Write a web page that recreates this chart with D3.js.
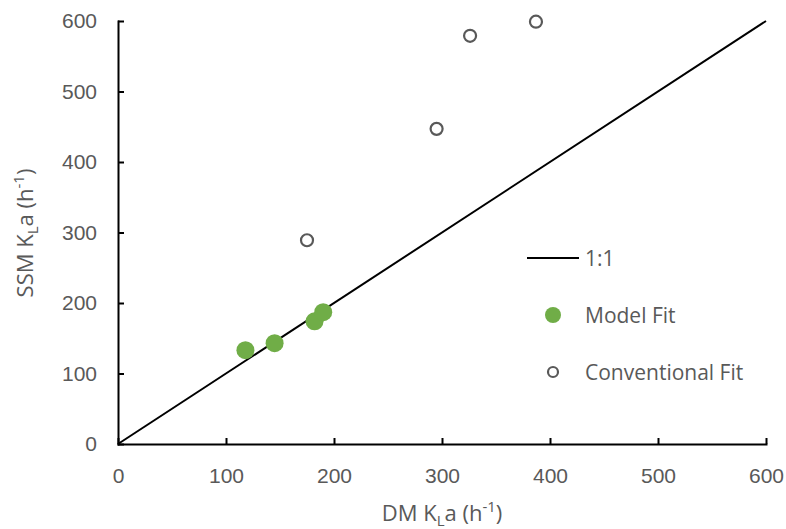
<!DOCTYPE html>
<html>
<head>
<meta charset="utf-8">
<script src="https://cdn.jsdelivr.net/npm/d3@7"></script>
<style>
  body { margin: 0; background: #fff; }
  svg { font-family: "Open Sans", sans-serif; }
  .axis path, .axis line { stroke: #000; stroke-width: 2; }
  .axis text { fill: #595959; font-size: 21px; }
</style>
</head>
<body>
<div id="chart"></div>
<script>
// values
const modelFit = [
  { dm: 118, ssm: 133 },
  { dm: 145, ssm: 143 },
  { dm: 182, ssm: 174 },
  { dm: 190, ssm: 187 }
];
const conventionalFit = [
  { dm: 175, ssm: 289 },
  { dm: 295, ssm: 447 },
  { dm: 326, ssm: 579 },
  { dm: 387, ssm: 599 }
];
const oneToOne = [[0, 0], [600, 600]];
const ticks = [0, 100, 200, 300, 400, 500, 600];

const width = 786, height = 529;
const margin = { top: 21, right: 20, bottom: 85, left: 118 };

const svg = d3.select('#chart').append('svg')
  .attr('width', width).attr('height', height);

const x = d3.scaleLinear().domain([0, 600]).range([margin.left, 766]);
const y = d3.scaleLinear().domain([0, 600]).range([444, margin.top]);

svg.append('g').attr('class', 'axis')
  .attr('transform', `translate(0,${y(0)})`)
  .call(d3.axisBottom(x).tickValues(ticks).tickSizeInner(-6).tickSizeOuter(0).tickPadding(24));

svg.append('g').attr('class', 'axis')
  .attr('transform', `translate(${x(0)},0)`)
  .call(d3.axisLeft(y).tickValues(ticks).tickSizeInner(-6).tickSizeOuter(0).tickPadding(21));

svg.selectAll('.axis .domain').attr('stroke-linecap', 'square');

// 1:1 line
svg.append('path')
  .datum(oneToOne)
  .attr('fill', 'none')
  .attr('stroke', '#000')
  .attr('stroke-width', 2)
  .attr('d', d3.line().x(d => x(d[0])).y(d => y(d[1])));

svg.append('g').selectAll('circle')
  .data(conventionalFit)
  .join('circle')
  .attr('cx', d => x(d.dm))
  .attr('cy', d => y(d.ssm))
  .attr('r', 6)
  .attr('fill', '#fff')
  .attr('stroke', '#595959')
  .attr('stroke-width', 2.2);

svg.append('g').selectAll('circle')
  .data(modelFit)
  .join('circle')
  .attr('cx', d => x(d.dm))
  .attr('cy', d => y(d.ssm))
  .attr('r', 9)
  .attr('fill', '#70ad47');

// axis titles
function title(sel, main) {
  sel.append('tspan').text(main + ' K');
  sel.append('tspan').attr('font-size', 15).attr('dy', 5).text('L');
  sel.append('tspan').attr('dy', -5).text('a (h');
  sel.append('tspan').attr('font-size', 15).attr('dy', -9).text('-1');
  sel.append('tspan').attr('dy', 9).text(')');
}

svg.append('text')
  .attr('x', 442).attr('y', 521)
  .attr('text-anchor', 'middle')
  .attr('fill', '#595959').attr('font-size', 22)
  .call(title, 'DM');

svg.append('text')
  .attr('transform', 'translate(33,233) rotate(-90)')
  .attr('text-anchor', 'middle')
  .attr('fill', '#595959').attr('font-size', 22)
  .call(title, 'SSM');

// legend
const legend = svg.append('g');
legend.append('line')
  .attr('x1', 527).attr('x2', 579).attr('y1', 258).attr('y2', 258)
  .attr('stroke', '#000').attr('stroke-width', 2);
legend.append('circle').attr('cx', 553).attr('cy', 315).attr('r', 8).attr('fill', '#70ad47');
legend.append('circle').attr('cx', 553).attr('cy', 372).attr('r', 5)
  .attr('fill', '#fff').attr('stroke', '#595959').attr('stroke-width', 2.2);

const legendLabels = [['1:1', 258], ['Model Fit', 315], ['Conventional Fit', 372]];
legend.selectAll('text.lbl')
  .data(legendLabels)
  .join('text')
  .attr('class', 'lbl')
  .attr('x', 585).attr('y', d => d[1])
  .attr('dy', '0.36em')
  .attr('fill', '#595959').attr('font-size', 21)
  .text(d => d[0]);
</script>
</body>
</html>
